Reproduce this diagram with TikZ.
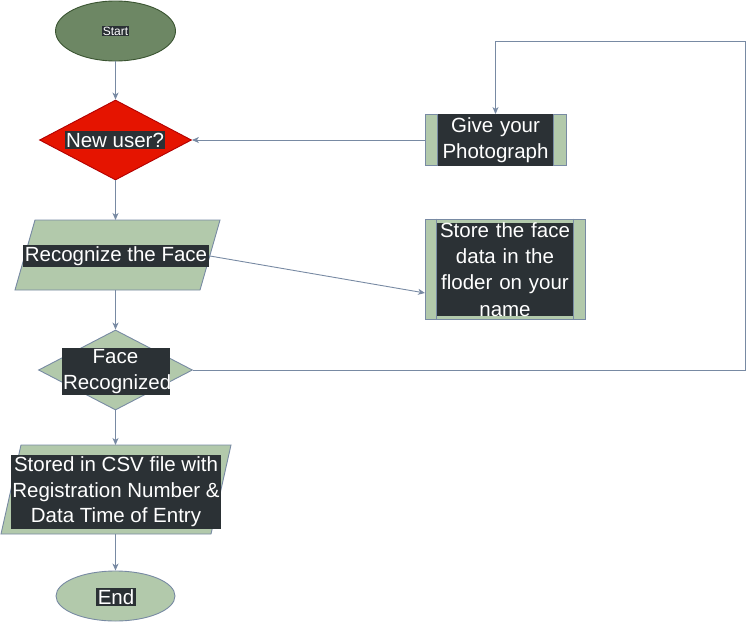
\documentclass[tikz,border=0pt]{standalone}
\usepackage{fontspec}
\setmainfont{Liberation Sans}
\usetikzlibrary{shapes.geometric,arrows.meta}
\definecolor{lineC}{HTML}{788AA3}
\definecolor{sage}{HTML}{B2C9AB}
\definecolor{startF}{HTML}{6D8764}
\definecolor{startD}{HTML}{3A5431}
\definecolor{redF}{HTML}{E51400}
\definecolor{redD}{HTML}{B20000}
\definecolor{lblbg}{HTML}{2B3135}
\tikzset{
  conn/.style={draw=lineC, line width=0.9pt},
  arr/.style={conn, -{Stealth[length=7pt,width=6pt,inset=2pt]}},
  lbl/.style={fill=lblbg, text=white, font=\fontsize{20.5}{25.5}\selectfont, inner sep=1.5pt, align=center},
  sageshape/.style={fill=sage, draw=lineC, line width=0.9pt},
  procbox/.style={rectangle, sageshape, inner sep=0pt},
}
\begin{document}
\begin{tikzpicture}[x=1pt,y=-1pt]
\useasboundingbox (0,0) rectangle (754,621);
% Start
\node[ellipse, fill=startF, draw=startD, line width=0.9pt, minimum width=120pt, minimum height=60pt, inner sep=0pt] (start) at (115.5,31) {};
\node[lbl, font=\fontsize{12}{14}\selectfont, inner sep=1pt] (startT) at (115.5,31) {Start};
% New user diamond
\node[diamond, fill=redF, draw=redD, line width=0.9pt, minimum width=152pt, minimum height=80pt, inner sep=0pt, aspect=1.9] (newu) at (115.5,140) {};
\node[lbl] (newuT) at (115,140) {New user?};
% Recognize parallelogram
\coordinate (recTL) at (35,220); \coordinate (recTR) at (220,220);
\coordinate (recBR) at (200,290); \coordinate (recBL) at (15,290);
\draw[sageshape] (recTL) -- (recTR) -- (recBR) -- (recBL) -- cycle;
\coordinate (recN) at (115.5,220); \coordinate (recS) at (115.5,290);
\coordinate (recE) at (210,256);
\node[lbl] (recT) at (116,256) {Recognize the Face};
% Face recognized diamond
\node[diamond, sageshape, minimum width=154pt, minimum height=80pt, inner sep=0pt, aspect=1.9] (face) at (115.5,370) {};
\node[lbl, text width=105pt] (faceT) at (115.5,371.5) {Face\\Recognized};
% CSV parallelogram
\coordinate (csvTL) at (21,445); \coordinate (csvTR) at (231,445);
\coordinate (csvBR) at (211,534); \coordinate (csvBL) at (1,534);
\draw[sageshape] (csvTL) -- (csvTR) -- (csvBR) -- (csvBL) -- cycle;
\coordinate (csvN) at (115.5,445); \coordinate (csvS) at (115.5,534);
\node[lbl] (csvT) at (116,492) {Stored in CSV file with\\Registration Number \&\\Data Time of Entry};
% End
\node[ellipse, sageshape, minimum width=119pt, minimum height=50pt, inner sep=0pt] (endn) at (115.5,596) {};
\node[lbl] (endT) at (116,597) {End};
% Give your photograph
\node[procbox, minimum width=141pt, minimum height=51pt] (give) at (495.5,140) {};
\draw[conn] ([xshift=13pt]give.north west) -- ([xshift=13pt]give.south west);
\draw[conn] ([xshift=-13pt]give.north east) -- ([xshift=-13pt]give.south east);
\node[lbl, text width=112pt, minimum height=52pt] (giveT) at (495.5,140) {Give your\\Photograph};
% Store face data
\node[procbox, minimum width=160pt, minimum height=100pt] (store) at (505,269) {};
\draw[conn] ([xshift=12pt]store.north west) -- ([xshift=12pt]store.south west);
\draw[conn] ([xshift=-12pt]store.north east) -- ([xshift=-12pt]store.south east);
\node[lbl, text width=133pt, inner ysep=0pt, font=\fontsize{20.5}{26.2}\selectfont] (storeT) at (505,269.5) {Store the face\\data in the\\floder on your\\name};
% connectors
\draw[arr] (start.south) -- (newu.north);
\draw[arr] (newu.south) -- (recN);
\draw[arr] (recS) -- (face.north);
\draw[arr] (face.south) -- (csvN);
\draw[arr] (csvS) -- (endn.north);
\draw[arr] (give.west) -- (newu.east);
\coordinate (storeIn) at (425,293);
\draw[arr] (recE) -- (storeIn);
\coordinate (loopA) at (745,370);
\coordinate (loopB) at (745,41);
\draw[arr] (face.east) -- (loopA) -- (loopB) -- (give.north |- loopB) -- (give.north);
\end{tikzpicture}
\end{document}
